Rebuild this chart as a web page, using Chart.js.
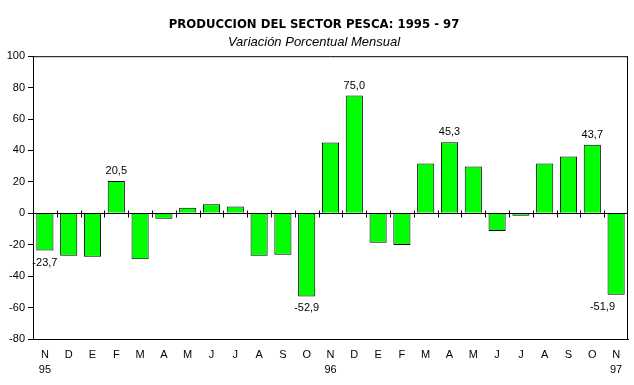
<!DOCTYPE html>
<html>
<head>
<meta charset="utf-8">
<script src="https://cdn.jsdelivr.net/npm/chart.js@4/dist/chart.umd.min.js"></script>
<style>
html,body{margin:0;padding:0;background:#fff;}
#wrap{width:634px;height:385px;position:relative;}
</style>
</head>
<body>
<div id="wrap"><canvas id="c" width="634" height="385"></canvas></div>
<script>
const months = ['N','D','E','F','M','A','M','J','J','A','S','O','N','D','E','F','M','A','M','J','J','A','S','O','N'];
const yearLabels = {0:'95', 12:'96', 24:'97'};
const values = [-23.7,-27.0,-27.7,20.5,-29.2,-3.4,3.6,5.7,4.3,-27.0,-26.4,-52.9,45.1,75.0,-18.7,-20.2,31.7,45.3,29.8,-11.3,-1.5,31.7,36.2,43.7,-51.9];
const labelledIdx = [0,3,11,13,17,23,24];
const yTicks = [-80,-60,-40,-20,0,20,40,60,80,100];

const categories = months.map((m,i)=> yearLabels[i] ? [m, yearLabels[i]] : [m]);
const FONT = "'Liberation Sans', Arial, sans-serif";

const decorPlugin = {
  id:'decor',
  afterDatasetsDraw(chart){
    const {ctx, chartArea:a, scales:{x,y}} = chart;
    const y0 = Math.round(y.getPixelForValue(0)) + 0.5;
    ctx.save();
    ctx.strokeStyle = '#000';
    ctx.lineWidth = 1;
    ctx.beginPath();
    ctx.moveTo(a.left, a.top + 0.5); ctx.lineTo(a.right, a.top + 0.5);
    ctx.moveTo(a.right - 0.5, a.top); ctx.lineTo(a.right - 0.5, a.bottom);
    ctx.moveTo(a.left, y0); ctx.lineTo(a.right, y0);
    const n = months.length;
    const step = (a.right - a.left) / n;
    for (let k = 1; k < n; k++) {
      const px = Math.round(a.left + k*step) + 0.5;
      ctx.moveTo(px, y0 - 3); ctx.lineTo(px, y0 + 4);
    }
    ctx.stroke();
    ctx.fillStyle = '#000';
    ctx.font = "11px " + FONT;
    ctx.textAlign = 'center';
    ctx.textBaseline = 'middle';
    const meta = chart.getDatasetMeta(0);
    labelledIdx.forEach(i => {
      const v = values[i];
      const bar = meta.data[i];
      const txt = v.toFixed(1).replace('.', ',');
      const w = ctx.measureText(txt).width;
      const px = Math.min(bar.x, a.right - 13 - w/2);
      const py = v >= 0 ? bar.y - 10 : bar.y + 12;
      ctx.fillText(txt, px, py);
    });
    ctx.restore();
  }
};

new Chart(document.getElementById('c'), {
  type:'bar',
  data:{
    labels: categories,
    datasets:[{
      data: values,
      backgroundColor:'#00ff00',
      borderColor:'#000',
      borderWidth:1,
      categoryPercentage:1.0,
      barPercentage:0.72
    }]
  },
  options:{
    responsive:false,
    animation:false,
    devicePixelRatio:1,
    layout:{padding:{top:0,right:6,bottom:0,left:0}},
    plugins:{
      legend:{display:false},
      tooltip:{enabled:false},
      title:{
        display:true,
        text:'PRODUCCION DEL SECTOR PESCA: 1995 - 97',
        color:'#000',
        font:{family:"'Liberation Sans Narrow', 'Arial Narrow', 'DejaVu Sans Condensed', sans-serif", size:13, weight:'bold'},
        padding:{top:17,bottom:2}
      },
      subtitle:{
        display:true,
        text:'Variación Porcentual Mensual',
        color:'#000',
        font:{family:FONT, size:13, style:'italic', weight:'normal'},
        padding:{top:0,bottom:6}
      }
    },
    scales:{
      x:{
        grid:{display:false, drawTicks:false},
        border:{display:true, color:'#000', width:1},
        ticks:{color:'#000', font:{family:FONT, size:11, lineHeight:1.35}, padding:9, maxRotation:0, autoSkip:false},
        afterFit(s){ s.height = 46; }
      },
      y:{
        min:-80, max:100,
        afterBuildTicks(s){ s.ticks = yTicks.map(v=>({value:v})); },
        grid:{drawOnChartArea:false, drawTicks:true, tickLength:5, color:'#000'},
        border:{display:true, color:'#000', width:1},
        ticks:{color:'#000', font:{family:FONT, size:11}, padding:3},
        afterFit(s){ s.width = 33; }
      }
    }
  },
  plugins:[decorPlugin]
});
</script>
</body>
</html>
